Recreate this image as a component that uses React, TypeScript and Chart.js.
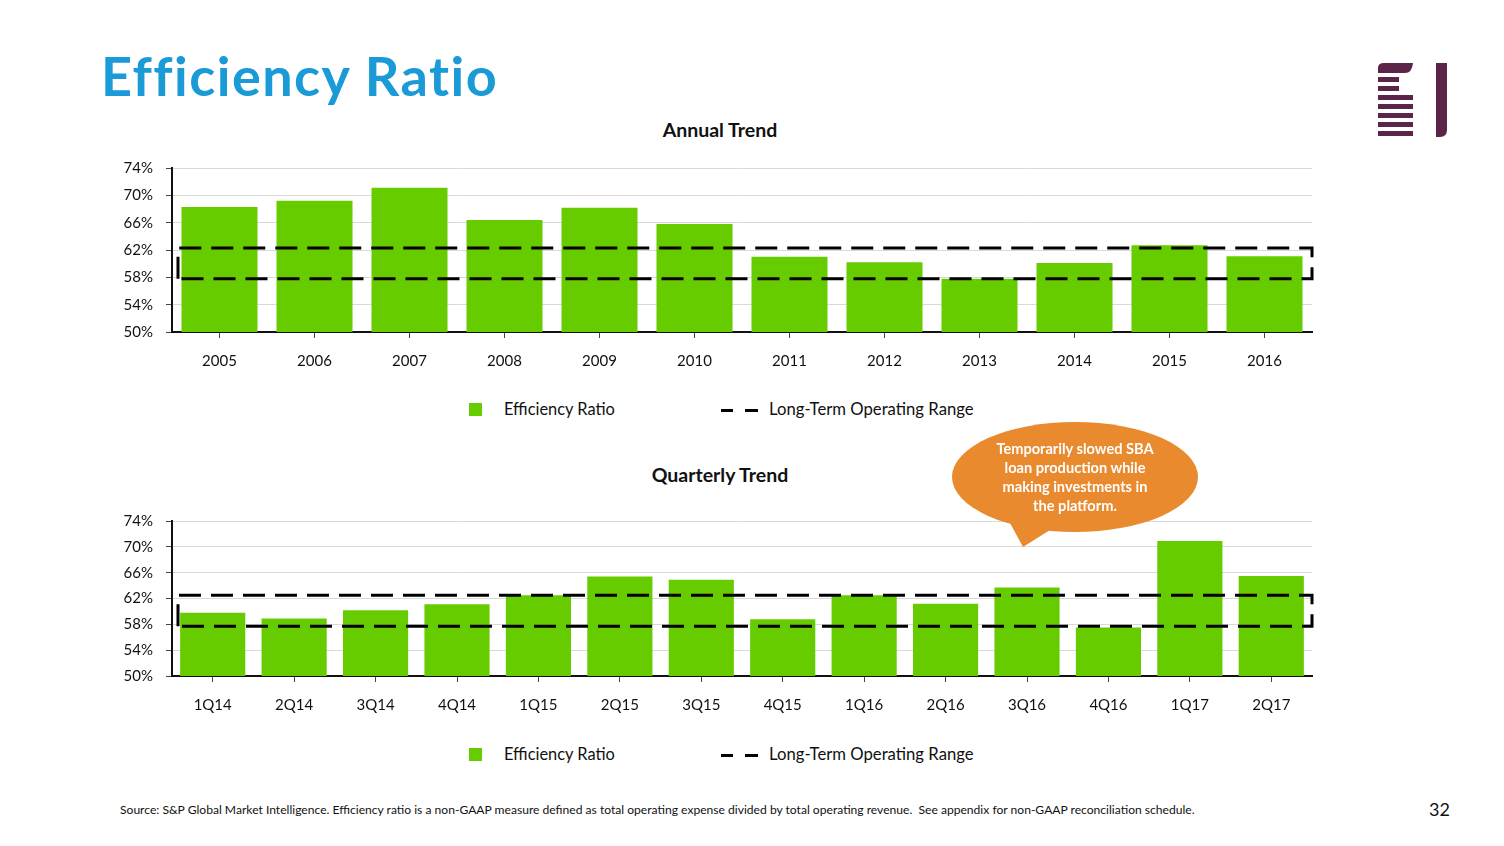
import React, { useEffect, useRef } from 'react';
import { Chart, registerables } from 'chart.js';

Chart.register(...registerables);

const annualLabels = ['2005', '2006', '2007', '2008', '2009', '2010', '2011', '2012', '2013', '2014', '2015', '2016'];
const annualValues = [68.3, 69.2, 71.1, 66.4, 68.2, 65.8, 61.0, 60.2, 57.8, 60.1, 62.7, 61.1];
const annualRange = [57.8, 62.3];

const quarterLabels = ['1Q14', '2Q14', '3Q14', '4Q14', '1Q15', '2Q15', '3Q15', '4Q15', '1Q16', '2Q16', '3Q16', '4Q16', '1Q17', '2Q17'];
const quarterValues = [59.8, 58.9, 60.2, 61.1, 62.5, 65.4, 64.9, 58.8, 62.5, 61.2, 63.7, 57.5, 70.9, 65.5];
const quarterRange = [57.7, 62.5];

const yMin = 50;
const yMax = 74;
const yStep = 4;

const FONT = 'Lato, "Open Sans", sans-serif';
const GREEN = '#66cc00';

const rangePlugin = {
  id: 'rangeBox',
  afterDatasetsDraw(chart: any, _args: any, opts: any) {
    const range: number[] = opts.range;
    if (!range) return;
    const { ctx, chartArea } = chart;
    const y = chart.scales.y;
    const yTop = y.getPixelForValue(range[1]);
    const yBot = y.getPixelForValue(range[0]);
    const x1 = chartArea.left + 6;
    const x2 = chartArea.right;
    ctx.save();
    ctx.strokeStyle = '#000';
    ctx.lineWidth = 3;
    ctx.setLineDash([22, 10]);
    ctx.beginPath();
    ctx.moveTo(x1, yBot);
    ctx.lineTo(x1, yTop);
    ctx.lineTo(x2, yTop);
    ctx.lineTo(x2, yBot);
    ctx.closePath();
    ctx.stroke();
    ctx.restore();
  },
};

function BarPanel(props: { labels: string[]; values: number[]; range: number[]; xHeight: number }) {
  const ref = useRef<HTMLCanvasElement | null>(null);
  useEffect(() => {
    if (!ref.current) return;
    const chart = new Chart(ref.current, {
      type: 'bar',
      data: {
        labels: props.labels,
        datasets: [
          {
            label: 'Efficiency Ratio',
            data: props.values,
            backgroundColor: GREEN,
            borderWidth: 0,
            barPercentage: 0.8,
            categoryPercentage: 1,
          },
        ],
      },
      options: {
        responsive: false,
        animation: false,
        layout: { padding: { top: 0, right: 18, bottom: 0, left: 0 } },
        plugins: {
          legend: { display: false },
          tooltip: { enabled: false },
          title: { display: false },
          rangeBox: { range: props.range },
        } as any,
        scales: {
          x: {
            grid: {
              display: true,
              drawOnChartArea: false,
              drawTicks: true,
              tickLength: 6,
              tickColor: '#444',
              offset: false,
            },
            border: { display: true, color: '#111', width: 2 },
            ticks: { color: '#111', font: { family: FONT, size: 15 }, padding: 14 },
            afterFit: (s: any) => {
              s.height = props.xHeight;
            },
          },
          y: {
            min: yMin,
            max: yMax,
            grid: {
              color: '#d9d9d9',
              lineWidth: 1,
              drawTicks: true,
              tickLength: 6,
              tickColor: '#444',
            },
            border: { display: true, color: '#111', width: 2 },
            ticks: {
              stepSize: yStep,
              color: '#111',
              font: { family: FONT, size: 15 },
              padding: 13,
              callback: (v: any) => v + '%',
            },
            afterFit: (s: any) => {
              s.width = 72;
            },
          },
        },
      },
      plugins: [rangePlugin],
    } as any);
    return () => chart.destroy();
  }, []);
  return <canvas ref={ref} width={1230} height={230} style={{ width: 1230, height: 230, display: 'block' }} />;
}

function Legend(props: { top: number }) {
  const t = props.top;
  return (
    <>
      <div style={{ position: 'absolute', left: 469, top: t - 7, width: 13, height: 13, background: GREEN }} />
      <div style={{ position: 'absolute', left: 504, top: t - 11, fontSize: 16.4, lineHeight: '20px', color: '#111', whiteSpace: 'nowrap' }}>
        Efficiency Ratio
      </div>
      <div style={{ position: 'absolute', left: 721, top: t - 1, width: 12, height: 3, background: '#000' }} />
      <div style={{ position: 'absolute', left: 745, top: t - 1, width: 13, height: 3, background: '#000' }} />
      <div style={{ position: 'absolute', left: 769, top: t - 11, fontSize: 16.7, lineHeight: '20px', color: '#111', whiteSpace: 'nowrap' }}>
        Long-Term Operating Range
      </div>
    </>
  );
}

function Logo() {
  const c = '#5b2448';
  const bars = [
    [1378, 77, 21],
    [1378, 86, 21],
    [1378, 95, 35],
    [1378, 104, 35],
    [1378, 113, 35],
    [1378, 122, 35],
    [1378, 131, 35],
  ];
  return (
    <svg style={{ position: 'absolute', left: 0, top: 0 }} width={1504} height={846}>
      <path d={`M1378 73 L1378 68 Q1378 63 1384 63 L1413 63 Q1412 73 1405 73 Z`} fill={c} />
      {bars.map((b, i) => (
        <rect key={i} x={b[0]} y={b[1]} width={b[2]} height={5} fill={c} />
      ))}
      <path d={`M1436 63 L1447 63 L1447 130 Q1447 137 1440 137 L1436 137 Z`} fill={c} />
    </svg>
  );
}

function Callout() {
  return (
    <div style={{ position: 'absolute', left: 940, top: 415, width: 270, height: 140 }}>
      <svg width={270} height={140} style={{ position: 'absolute', left: 0, top: 0 }}>
        <polygon points="70,108 83,132 110,115" fill="#e98a2f" />
        <ellipse cx={135} cy={62} rx={123} ry={55} fill="#e98a2f" />
      </svg>
      <div
        style={{
          position: 'absolute',
          left: 0,
          top: 24,
          width: 270,
          textAlign: 'center',
          color: '#fff',
          fontWeight: 700,
          fontSize: 14.6,
          lineHeight: '19px',
        }}
      >
        Temporarily slowed SBA
        <br />
        loan production while
        <br />
        making investments in
        <br />
        the platform.
      </div>
    </div>
  );
}

export default function App() {
  return (
    <div
      style={{
        position: 'fixed',
        left: 0,
        top: 0,
        width: 1504,
        height: 846,
        background: '#fff',
        fontFamily: FONT,
        overflow: 'hidden',
      }}
    >
      <div style={{ position: 'absolute', left: 101, top: 49, fontSize: 54, lineHeight: '54px', fontWeight: 700, letterSpacing: '1.45px', color: '#1a9ad7', whiteSpace: 'nowrap' }}>
        Efficiency Ratio
      </div>
      <Logo />
      <div style={{ position: 'absolute', left: 520, width: 400, top: 119, textAlign: 'center', fontWeight: 700, fontSize: 19.5, lineHeight: '22px', color: '#111' }}>
        Annual Trend
      </div>
      <div style={{ position: 'absolute', left: 100, top: 146 }}>
        <BarPanel labels={annualLabels} values={annualValues} range={annualRange} xHeight={44} />
      </div>
      <Legend top={410} />
      <div style={{ position: 'absolute', left: 520, width: 400, top: 464, textAlign: 'center', fontWeight: 700, fontSize: 19.5, lineHeight: '22px', color: '#111' }}>
        Quarterly Trend
      </div>
      <div style={{ position: 'absolute', left: 100, top: 499 }}>
        <BarPanel labels={quarterLabels} values={quarterValues} range={quarterRange} xHeight={53} />
      </div>
      <Legend top={755} />
      <Callout />
      <div style={{ position: 'absolute', left: 120, top: 803, fontSize: 12.1, lineHeight: '14px', color: '#111', whiteSpace: 'nowrap' }}>
        Source: S&amp;P Global Market Intelligence. Efficiency ratio is a non-GAAP measure defined as total operating expense divided by total operating revenue.&nbsp; See appendix for non-GAAP reconciliation schedule.
      </div>
      <div style={{ position: 'absolute', left: 1420, top: 798, width: 30, textAlign: 'right', fontSize: 18, lineHeight: '22px', color: '#111' }}>
        32
      </div>
    </div>
  );
}
